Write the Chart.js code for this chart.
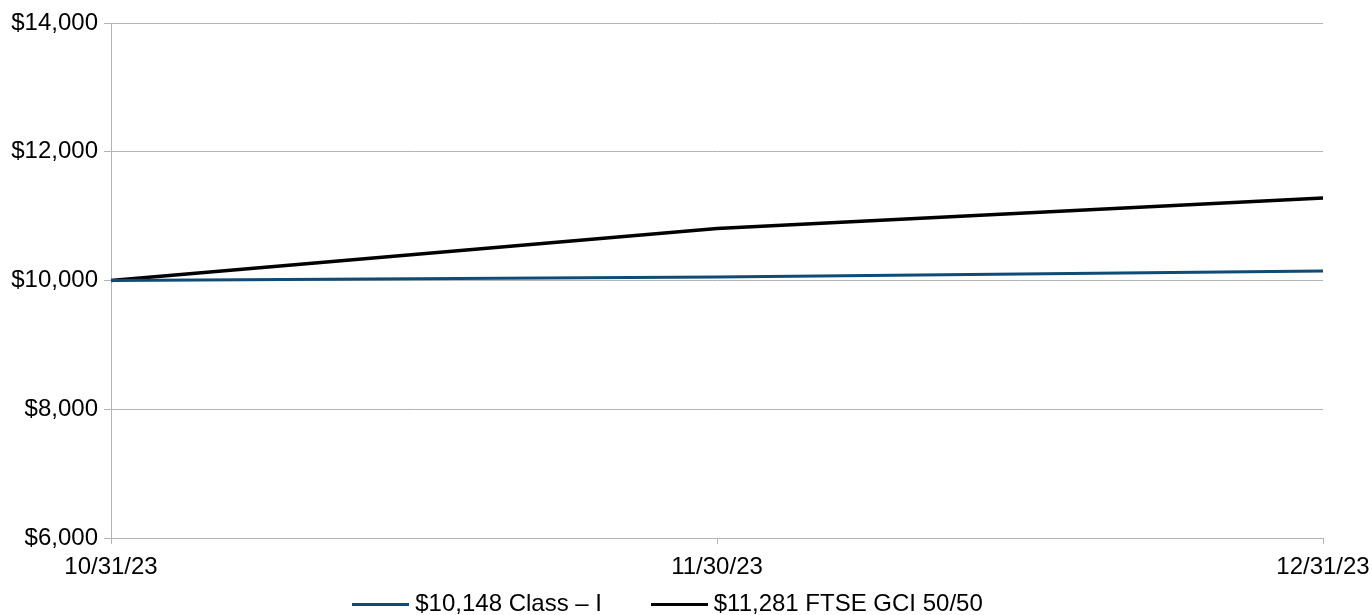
<!DOCTYPE html>
<html>
<head>
<meta charset="utf-8">
<script src="https://cdn.jsdelivr.net/npm/chart.js@4/dist/chart.umd.min.js"></script>
<style>
  html, body { margin: 0; padding: 0; background: #fff; }
  #wrap { width: 1372px; height: 615px; }
</style>
</head>
<body>
<div id="wrap"><canvas id="grafico"></canvas></div>
<script>
const datas = ['10/31/23', '11/30/23', '12/31/23']
const classeI = [10000, 10055, 10148]
const ftseGci = [10000, 10808, 11281]
const nomesSeries = ['$10,148 Class \u2013 I', '$11,281 FTSE GCI 50/50']
const coresSeries = ['#0e4b76', '#000000']

const cinza = '#b3b3b3'
Chart.defaults.font.family = "'Liberation Sans', Arial, sans-serif"
Chart.defaults.font.size = 24
Chart.defaults.color = '#000'

// amostra de linha da legenda (57x3)
function amostra(cor) {
  const c = document.createElement('canvas')
  c.width = 57
  c.height = 3
  const g = c.getContext('2d')
  g.fillStyle = cor
  g.fillRect(0, 0, 57, 3)
  return c
}

// centraliza a legenda como no original
const ajusteLegenda = {
  id: 'ajusteLegenda',
  afterLayout(chart) {
    if (chart.legend) {
      chart.legend.left += 9
      chart.legend.right += 9
    }
  }
}

const ctx = document.getElementById('grafico').getContext('2d')
new Chart(ctx, {
  type: 'line',
  data: {
    labels: datas,
    datasets: [{
      label: nomesSeries[0],
      data: classeI,
      borderColor: coresSeries[0],
      backgroundColor: coresSeries[0],
      borderWidth: 3,
      pointRadius: 0,
      tension: 0
    }, {
      label: nomesSeries[1],
      data: ftseGci,
      borderColor: coresSeries[1],
      backgroundColor: coresSeries[1],
      borderWidth: 3.5,
      pointRadius: 0,
      tension: 0
    }]
  },
  options: {
    responsive: true,
    maintainAspectRatio: false,
    animation: false,
    layout: { padding: { top: 23, right: 49, left: 0, bottom: -11 } },
    scales: {
      x: {
        afterFit: scale => {
          scale.height = 46
          scale.paddingLeft = 0
          scale.paddingRight = 0
        },
        grid: { drawOnChartArea: false, color: cinza, tickLength: 6 },
        border: { color: cinza },
        ticks: { autoSkip: false, maxRotation: 0, padding: 9 }
      },
      y: {
        min: 6000,
        max: 14000,
        afterFit: scale => { scale.width = 111 },
        grid: { color: cinza, tickLength: 7 },
        border: { color: cinza },
        ticks: {
          stepSize: 2000,
          padding: 6,
          callback: v => '$' + v.toLocaleString('en-US')
        }
      }
    },
    plugins: {
      tooltip: { enabled: false },
      legend: {
        position: 'bottom',
        labels: {
          usePointStyle: true,
          pointStyleWidth: 45,
          boxWidth: 45,
          boxHeight: 3,
          padding: 8,
          generateLabels: chart => chart.data.datasets.map((ds, i) => ({
            text: i === 0 ? ds.label + '       ' : ds.label,
            fillStyle: ds.borderColor,
            strokeStyle: ds.borderColor,
            pointStyle: amostra(ds.borderColor),
            lineWidth: 0,
            datasetIndex: i,
            hidden: false
          }))
        }
      }
    }
  },
  plugins: [ajusteLegenda]
})
</script>
</body>
</html>
